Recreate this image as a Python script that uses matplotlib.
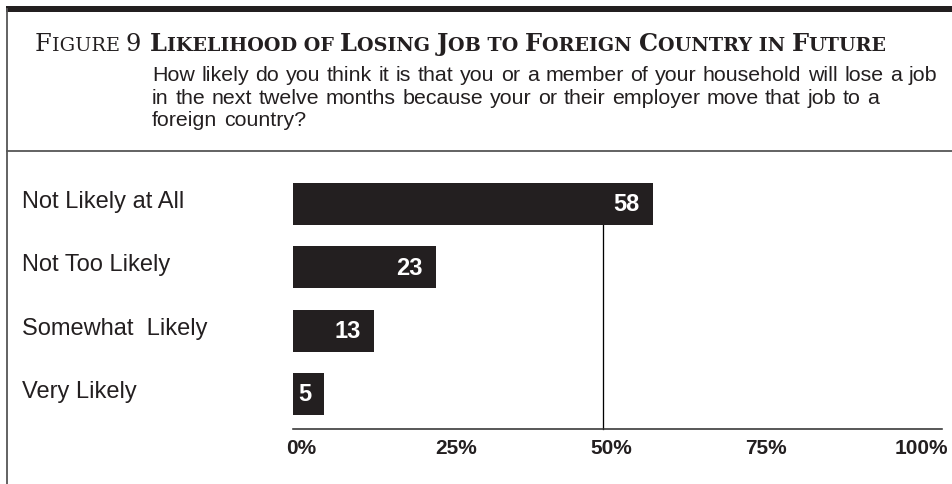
import matplotlib
matplotlib.use("Agg")
import matplotlib.pyplot as plt
from matplotlib.lines import Line2D

# ---- data ----
categories = ["Not Likely at All", "Not Too Likely", "Somewhat  Likely", "Very Likely"]
values = [58, 23, 13, 5]
tick_values = [0, 25, 50, 75, 100]
tick_labels = ["0%", "25%", "50%", "75%", "100%"]
figure_label = "Figure 9"
title = "Likelihood of Losing Job to Foreign Country in Future"
question_lines = [
    "How likely do you think it is that you or a member of your household will lose a job",
    "in the next twelve months because your or their employer move that job to a",
    "foreign country?",
]

DARK = "#231f20"
SANS = ["Liberation Sans", "DejaVu Sans"]
SERIF = ["DejaVu Serif"]

W, H = 953, 485
fig = plt.figure(figsize=(W / 100, H / 100), dpi=100)
fig.patch.set_facecolor("white")


def fx(x):
    return x / W


def fy(y):
    return 1 - y / H


def pt(px):
    return px * 72 / 100


# ---- frame lines ----
fig.add_artist(Line2D([fx(6), 1], [fy(10), fy(10)], lw=pt(6), color=DARK,
                      solid_capstyle="butt"))
fig.add_artist(Line2D([fx(7.5), fx(7.5)], [fy(10), 0], lw=pt(1.8), color="#555555"))
fig.add_artist(Line2D([fx(7.5), 1], [fy(152), fy(152)], lw=pt(1.8), color="#555555"))

renderer = fig.canvas.get_renderer()


def text_width(s, size, weight, family):
    # measure with guard characters so leading/trailing spaces are counted
    t = fig.text(0, 0, "|" + s + "|", fontsize=size, family=family, fontweight=weight)
    w = t.get_window_extent(renderer).width
    t.set_text("||")
    w -= t.get_window_extent(renderer).width
    t.remove()
    return w


# ---- small-caps heading ----
def small_caps(text, x0, baseline, big, weight, target_width):
    small = big * 0.8
    runs = []
    for ch in text:
        sz = big if (ch.isupper() or ch.isdigit()) else small
        if ch == " " and runs:
            sz = runs[-1][1]
        if runs and runs[-1][1] == sz:
            runs[-1][0] += ch.upper()
        else:
            runs.append([ch.upper(), sz])

    def layout(scale, draw):
        x = x0
        for s, sz in runs:
            if draw and s.strip():
                fig.text(fx(x), fy(baseline), s, fontsize=sz * scale, family=SERIF,
                         fontweight=weight, va="baseline", ha="left", color=DARK)
            x += text_width(s, sz * scale, weight, SERIF)
        return x - x0

    scale = target_width / layout(1.0, False)
    layout(scale, True)


small_caps(figure_label, 35, 51, 17, "normal", target_width=106)
small_caps(title, 150, 51, 17, "bold", target_width=740)

# ---- question text: words set with a slightly open word space ----
q_x0, q_right, q_size = 152, 937, 15.4
space_w = text_width(" ", q_size, "normal", SANS)
first_words = question_lines[0].split(" ")
words_w = sum(text_width(w, q_size, "normal", SANS) for w in first_words)
gap = (q_right - q_x0 - words_w) / (len(first_words) - 1)
gap = max(gap, space_w)
for i, line in enumerate(question_lines):
    x = q_x0
    for w in line.split(" "):
        fig.text(fx(x), fy(81 + i * 22.5), w, fontsize=q_size, family=SANS,
                 va="baseline", ha="left", color=DARK)
        x += text_width(w, q_size, "normal", SANS) + gap

# ---- bar chart ----
x_left, x_right = 293, 942
y_top, y_bottom = 160, 430
ax = fig.add_axes([fx(x_left), fy(y_bottom), (x_right - x_left) / W, (y_bottom - y_top) / H])
px_per_unit = 6.2
ax.set_xlim(0, (x_right - x_left) / px_per_unit)
row_px = 63.3
first_center = 205
ax.set_ylim((y_bottom - first_center) / row_px, (y_top - first_center) / row_px)
for side in ("top", "right", "left"):
    ax.spines[side].set_visible(False)
ax.spines["bottom"].set_color("#333333")
ax.spines["bottom"].set_linewidth(pt(1.6))
ax.set_xticks([])
ax.set_yticks([])
ax.patch.set_alpha(0)

positions = list(range(len(categories)))
ax.plot([50, 50], [0, ax.get_ylim()[0]], color="black", lw=pt(1.3), zorder=1,
        clip_on=False)
ax.barh(positions, values, height=42 / row_px, color=DARK, zorder=2)

for p, v in zip(positions, values):
    ax.annotate(str(v), (v, p), xytext=(-pt(13), 0), textcoords="offset points",
                ha="right", va="center", color="white", fontsize=17,
                fontweight="bold", family=SANS, zorder=3)

for t, lab in zip(tick_values, tick_labels):
    ax.annotate(lab, (t, ax.get_ylim()[0]), xytext=(pt(8), -pt(9)),
                textcoords="offset points", ha="center", va="top",
                fontsize=15, fontweight="bold", family=SANS, color=DARK,
                annotation_clip=False)

for p, cat in zip(positions, categories):
    ax.annotate(cat, (0, p), xycoords=("figure fraction", "data"),
                xytext=(pt(22), pt(3)), textcoords="offset points",
                ha="left", va="center", fontsize=17, family=SANS, color=DARK,
                annotation_clip=False)

fig.savefig("out.png", dpi=100)
